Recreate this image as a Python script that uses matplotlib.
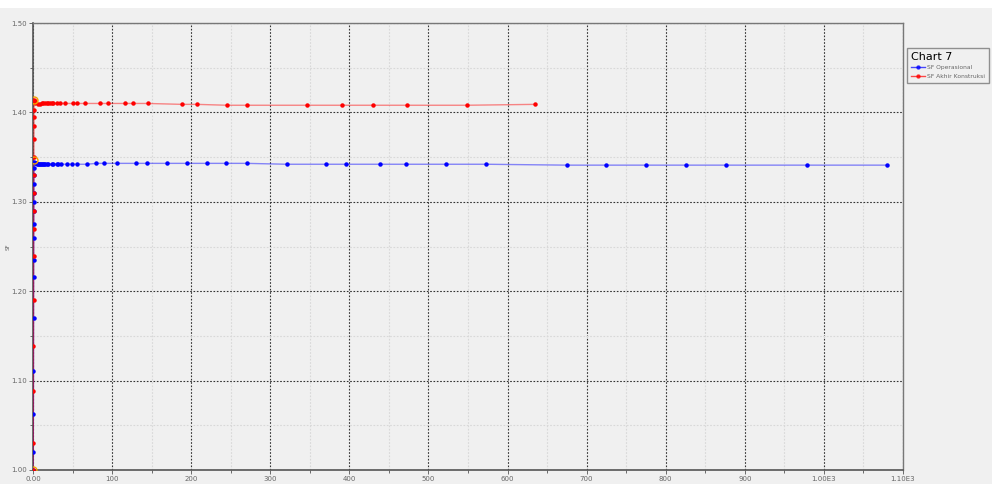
import matplotlib
matplotlib.use('Agg')
import matplotlib.pyplot as plt
from matplotlib.patches import Rectangle
from matplotlib.ticker import FixedLocator, MultipleLocator

# SF Operasional (blue)
op_x = [0, 0.3, 0.5, 0.6, 0.7, 0.8, 0.9, 1.0, 1.0, 1.1, 1.2, 1.2, 1.3, 1.3, 1.4, 1.5,
        2.5, 4, 5, 6, 7.5, 9, 10, 11, 13, 14, 15, 18, 19, 24, 25, 30, 32, 36, 43, 49,
        56, 68, 80, 90, 106, 130, 144, 169, 195, 220, 244, 270, 321, 370, 396, 439,
        472, 522, 573, 675, 724, 775, 826, 876, 978, 1080]
op_y = [1.000, 1.020, 1.063, 1.111, 1.170, 1.216, 1.235, 1.260, 1.275, 1.290, 1.300,
        1.310, 1.320, 1.330, 1.338, 1.344,
        1.343, 1.343, 1.342, 1.342, 1.342, 1.342, 1.342, 1.342, 1.342, 1.342, 1.342,
        1.342, 1.342, 1.342, 1.342, 1.342, 1.342, 1.342, 1.342, 1.342,
        1.342, 1.342, 1.343, 1.343, 1.343, 1.343, 1.343, 1.343, 1.343, 1.343, 1.343,
        1.343, 1.342, 1.342, 1.342, 1.342, 1.342, 1.342, 1.342, 1.341, 1.341, 1.341,
        1.341, 1.341, 1.341, 1.341]

# SF Akhir Konstruksi (red)
ak_x = [0, 0.3, 0.5, 0.6, 0.7, 0.8, 0.9, 1.0, 1.0, 1.1, 1.2, 1.2, 1.3, 1.3, 1.4, 1.5, 2.0,
        2.5, 6, 9, 11, 13, 15, 18, 19, 22, 24, 25, 30, 34, 41, 51, 56, 66, 85, 95,
        116, 126, 145, 188, 207, 245, 270, 346, 391, 430, 473, 549, 635]
ak_y = [1.000, 1.030, 1.088, 1.139, 1.190, 1.239, 1.270, 1.290, 1.310, 1.330, 1.350,
        1.370, 1.385, 1.395, 1.403, 1.414, 1.413,
        1.411, 1.409, 1.409, 1.410, 1.410, 1.410, 1.410, 1.410, 1.410, 1.410, 1.410,
        1.410, 1.410, 1.410, 1.410, 1.410, 1.410, 1.410, 1.410,
        1.410, 1.410, 1.410, 1.409, 1.409, 1.408, 1.408, 1.408, 1.408, 1.408, 1.408,
        1.408, 1.409]

# highlighted points (orange circles)
hl_x = [0, 1.5, 1.0]
hl_y = [1.000, 1.414, 1.347]

x_ticks = [0, 100, 200, 300, 400, 500, 600, 700, 800, 900, 1000, 1100]
x_labels = ['0.00', '100', '200', '300', '400', '500', '600', '700', '800', '900',
            '1.00E3', '1.10E3']
y_ticks = [1.00, 1.10, 1.20, 1.30, 1.40, 1.50]
y_labels = ['1.00', '1.10', '1.20', '1.30', '1.40', '1.50']

fig = plt.figure(figsize=(9.92, 4.84), dpi=100)
fig.patch.set_facecolor('#f0f0f0')
fig.patches.append(Rectangle((0, 1 - 8 / 484), 1, 8 / 484, transform=fig.transFigure,
                             facecolor='white', edgecolor='none', zorder=0))

ax = fig.add_axes([33 / 992, 14 / 484, 870 / 992, 447 / 484])
ax.set_facecolor('#f0f0f0')

ax.plot(op_x, op_y, color='#0000ff', lw=1, alpha=0.45, zorder=3)
ax.plot(op_x, op_y, ls='none', marker='o', ms=2.2, color='#0000ff', zorder=4)
ax.plot(ak_x, ak_y, color='#ff0000', lw=1, alpha=0.45, zorder=3)
ax.plot(ak_x, ak_y, ls='none', marker='o', ms=2.2, color='#ff0000', zorder=4)
ax.plot(hl_x, hl_y, ls='none', marker='o', ms=5, mfc='none', mec='#f5a000', mew=1, zorder=5)

# legend handles
h1, = ax.plot([], [], color='#0000ff', lw=1, marker='o', ms=2.2, alpha=0.7)
h2, = ax.plot([], [], color='#ff0000', lw=1, marker='o', ms=2.2, alpha=0.7)

ax.set_xlim(0, 1100)
ax.set_ylim(1.0, 1.5)
ax.xaxis.set_major_locator(FixedLocator(x_ticks))
ax.set_xticklabels(x_labels)
ax.yaxis.set_major_locator(FixedLocator(y_ticks))
ax.set_yticklabels(y_labels)
ax.xaxis.set_minor_locator(MultipleLocator(50))
ax.yaxis.set_minor_locator(MultipleLocator(0.05))

ax.grid(which='major', color='#333333', ls=(0, (1.5, 1.5)), lw=0.8)
ax.grid(which='minor', color='#d8d8d8', ls=(0, (1.5, 1.5)), lw=0.8)
ax.tick_params(which='both', labelsize=5, colors='#555555', length=3, width=0.6,
               labelcolor='#666666', pad=1.5)
ax.tick_params(which='minor', length=2)

for side in ['left', 'bottom']:
    ax.spines[side].set_color('#555555')
    ax.spines[side].set_linewidth(1.2)
for side in ['top', 'right']:
    ax.spines[side].set_color('#777777')
    ax.spines[side].set_linewidth(1.0)

ax.set_ylabel('SF', fontsize=4, color='#666666')
ax.yaxis.set_label_coords(-0.026, 0.5)

leg = fig.legend([h1, h2], ['SF Operasional', 'SF Akhir Konstruksi'],
                 loc='upper left', bbox_to_anchor=(907 / 992, 1 - 48 / 484),
                 title='Chart 7', fontsize=4.3, title_fontsize=8,
                 frameon=True, fancybox=False, borderpad=0.6, labelspacing=0.6,
                 handlelength=2.4, handletextpad=0.4, borderaxespad=0,
                 alignment='left')
leg.get_frame().set_edgecolor('#777777')
leg.get_frame().set_facecolor('#f0f0f0')
leg.get_frame().set_linewidth(1)
for t in leg.get_texts():
    t.set_color('#666666')

fig.savefig('out.png', dpi=100, facecolor=fig.get_facecolor())
